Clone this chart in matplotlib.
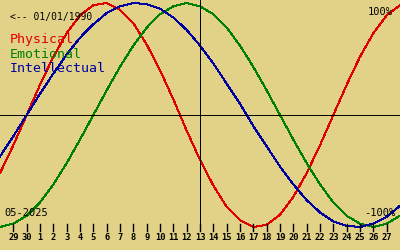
"""
Biorhythm chart, May 2025, birth date 01/01/1990.
"""
import matplotlib
matplotlib.use("Agg")
import matplotlib.pyplot as plt
from matplotlib.lines import Line2D

# days shown: Apr 28 .. May 28 (index 0..30), one value per day
day_labels = ['28', '29', '30'] + [str(d) for d in range(1, 29)]
physical = [-0.52, -0.27, 0.00, 0.27, 0.52, 0.73, 0.89, 0.98, 1.00, 0.94,
            0.82, 0.63, 0.40, 0.14, -0.14, -0.40, -0.63, -0.82, -0.94, -1.00,
            -0.98, -0.89, -0.73, -0.52, -0.27, 0.00, 0.27, 0.52, 0.73, 0.89,
            0.98]
emotional = [-1.00, -0.97, -0.90, -0.78, -0.62, -0.43, -0.22, 0.00, 0.22, 0.43,
             0.62, 0.78, 0.90, 0.97, 1.00, 0.97, 0.90, 0.78, 0.62, 0.43,
             0.22, 0.00, -0.22, -0.43, -0.62, -0.78, -0.90, -0.97, -1.00, -0.97,
             -0.90]
intellectual = [-0.37, -0.19, 0.00, 0.19, 0.37, 0.54, 0.69, 0.81, 0.91, 0.97,
                1.00, 0.99, 0.95, 0.87, 0.76, 0.62, 0.46, 0.28, 0.10, -0.10,
                -0.28, -0.46, -0.62, -0.76, -0.87, -0.95, -0.99, -1.00, -0.97, -0.91,
                -0.81]
today = 15  # May 13
birth_label = '<-- 01/01/1990'
month_label = '05-2025'

BG = '#e1d288'
RED = '#e00000'
GREEN = '#008000'
BLUE = '#0000a0'
MONO = 'DejaVu Sans Mono'

W, H = 400, 250
Y0, AMP = 115, 112  # pixel row of zero line, pixels per unit
PX = 0.72  # one pixel in points


def py(p):
    # pixel row (from top) -> data value
    return (Y0 - p) / AMP


fig = plt.figure(figsize=(4, 2.5), dpi=100, facecolor=BG)
ax = fig.add_axes([0, 0, 1, 1])
ax.set_facecolor(BG)
ax.set_xlim(0, len(day_labels) - 1)
ax.set_ylim(py(H), py(0))
ax.axis('off')

x = list(range(len(day_labels)))
for vals, col in [(physical, RED), (emotional, GREEN), (intellectual, BLUE)]:
    ax.plot(x, vals, color=col, lw=PX, antialiased=False)

ax.axhline(0, color='black', lw=PX, antialiased=False)
ax.plot([today, today], [py(0), py(230)], color='black', lw=PX,
        antialiased=False)

# day ticks and labels (first and last day not labelled)
ticks = x[1:-1]
for i in ticks:
    xf = ax.transData.transform((i, 0))[0] / W
    fig.add_artist(Line2D([xf, xf], [1 - 231 / H, 1 - 224 / H],
                          color='black', lw=1.0, zorder=10))
    ax.text(i, py(239.5), day_labels[i], ha='center', va='baseline',
            fontsize=6.3, fontweight='bold', family=MONO, color='black')


def ptext(px, pyy, s, **kw):
    fig.text(px / W, 1 - pyy / H, s, va='baseline', family=MONO, **kw)


ptext(10, 20, birth_label, fontsize=7, color='black')
ptext(10, 42.5, 'Physical', fontsize=9.5, color=RED)
ptext(10, 57.5, 'Emotional', fontsize=9.5, color=GREEN)
ptext(10, 72.5, 'Intellectual', fontsize=9.5, color=BLUE)
ptext(393, 15, '100%', fontsize=7.5, color='black', ha='right')
ptext(395, 216, '-100%', fontsize=7.5, color='black', ha='right')
ptext(4, 216, month_label, fontsize=7.5, color='black')

fig.savefig('out.png', dpi=100, facecolor=BG)
